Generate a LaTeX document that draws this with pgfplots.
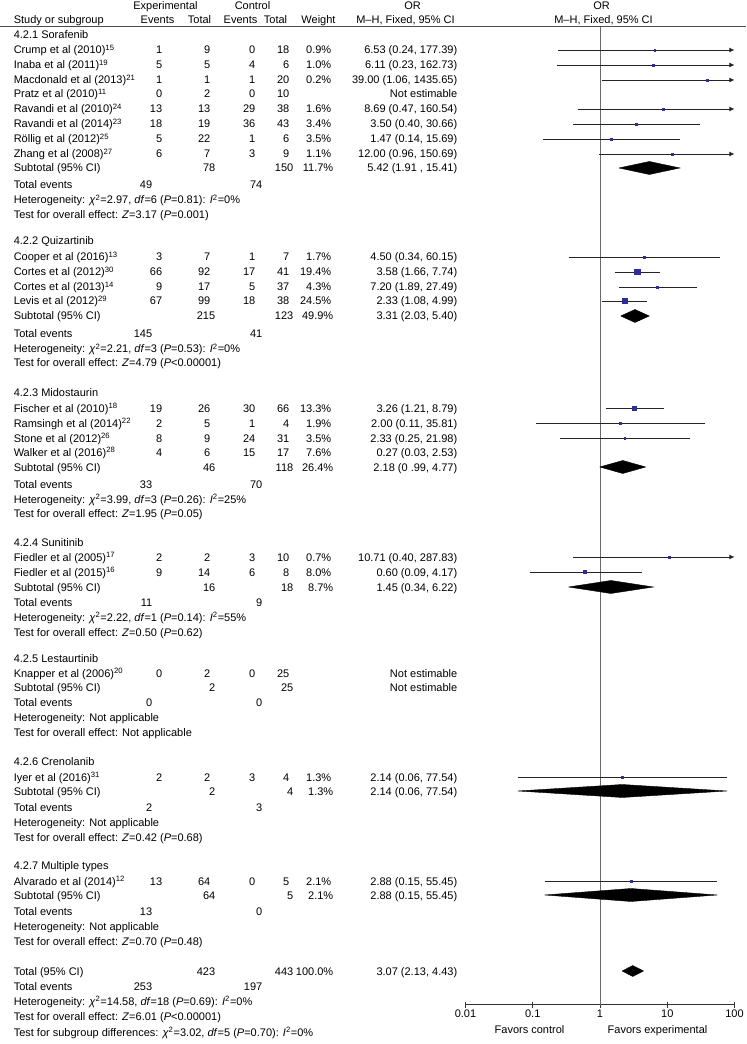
\documentclass[border=0pt]{standalone}
\usepackage{pgfplots}
\pgfplotsset{compat=1.18}
\usepackage{fontspec}
\setmainfont{Liberation Sans}
\usetikzlibrary{arrows.meta}
\definecolor{sq}{RGB}{45,45,155}
\definecolor{ln}{RGB}{35,35,35}
\definecolor{vl}{RGB}{105,105,105}
\newcommand\Lt[3]{\node[anchor=base west,yshift=-3pt,inner sep=0pt] at (axis cs:#1,#2) {#3};}
\newcommand\Rt[3]{\node[anchor=base east,yshift=-3pt,inner sep=0pt] at (axis cs:#1,#2) {#3};}
\newcommand\Ct[3]{\node[anchor=base,yshift=-3pt,inner sep=0pt] at (axis cs:#1,#2) {#3};}
\newcommand\Stu[8]{\Lt{13}{#1}{#2}\Rt{162}{#1}{#3}\Rt{210}{#1}{#4}\Rt{255}{#1}{#5}\Rt{289}{#1}{#6}\Rt{331}{#1}{#7}\Rt{457}{#1}{#8}}
\newcommand\Sub[5]{\Lt{13}{#1}{Subtotal (95\% CI)}\Rt{215}{#1}{#2}\Rt{293}{#1}{#3}\Rt{333}{#1}{#4}\Rt{457}{#1}{#5}}
\newcommand\TE[3]{\Lt{13}{#1}{Total events}\Rt{152}{#1}{#2}\Rt{262}{#1}{#3}}
\newcommand\Het[2]{\Lt{13}{#1}{Heterogeneity: #2}}
\newcommand\Tst[2]{\Lt{13}{#1}{Test for overall effect: #2}}
\newcommand\chisq{\textit{χ}\textsuperscript{2}}
\newcommand\Isq{\textit{I}\textsuperscript{2}}
\begin{document}
\begin{tikzpicture}[font=\fontsize{8.25}{10}\selectfont]
\begin{axis}[at={(0pt,0pt)}, anchor=south west, scale only axis,
  width=558.75pt, height=783pt, xmin=0, xmax=745, ymin=0, ymax=1044,
  y dir=reverse, hide axis, clip=false]
\path (axis cs:0,0) rectangle (axis cs:745,1044);
\draw[black!70, line width=0.75pt] (axis cs:0,27) -- (axis cs:745,27);
% headers
\Ct{165}{6}{Experimental}
\Ct{252}{6}{Control}
\Ct{412}{6}{OR}
\Ct{601}{6}{OR}
\Lt{13}{20}{Study or subgroup}
\Ct{157}{20}{Events}
\Ct{199}{20}{Total}
\Ct{240}{20}{Events}
\Ct{275}{20}{Total}
\Ct{318}{20}{Weight}
\Ct{405}{20}{M–H, Fixed, 95\% CI}
\Ct{603}{20}{M–H, Fixed, 95\% CI}
% 4.2.1
\Lt{13}{35}{4.2.1 Sorafenib}
\Stu{50}{Crump et al (2010)\textsuperscript{15}}{1}{9}{0}{18}{0.9\%}{6.53 (0.24, 177.39)}
\Stu{65}{Inaba et al (2011)\textsuperscript{19}}{5}{5}{4}{6}{1.0\%}{6.11 (0.23, 162.73)}
\Stu{80}{Macdonald et al (2013)\textsuperscript{21}}{1}{1}{1}{20}{0.2\%}{39.00 (1.06, 1435.65)}
\Stu{94}{Pratz et al (2010)\textsuperscript{11}}{0}{2}{0}{10}{}{Not estimable}
\Stu{109}{Ravandi et al (2010)\textsuperscript{24}}{13}{13}{29}{38}{1.6\%}{8.69 (0.47, 160.54)}
\Stu{124}{Ravandi et al (2014)\textsuperscript{23}}{18}{19}{36}{43}{3.4\%}{3.50 (0.40, 30.66)}
\Stu{139}{Röllig et al (2012)\textsuperscript{25}}{5}{22}{1}{6}{3.5\%}{1.47 (0.14, 15.69)}
\Stu{154}{Zhang et al (2008)\textsuperscript{27}}{6}{7}{3}{9}{1.1\%}{12.00 (0.96, 150.69)}
\Sub{168}{78}{150}{11.7\%}{5.42 (1.91 , 15.41)}
\TE{185}{49}{74}
\Het{200}{\chisq=2.97, \textit{df}=6 (\textit{P}=0.81): \Isq=0\%}
\Tst{215}{\textit{Z}=3.17 (\textit{P}=0.001)}
% 4.2.2
\Lt{13}{241}{4.2.2 Quizartinib}
\Stu{257}{Cooper et al (2016)\textsuperscript{13}}{3}{7}{1}{7}{1.7\%}{4.50 (0.34, 60.15)}
\Stu{272}{Cortes et al (2012)\textsuperscript{30}}{66}{92}{17}{41}{19.4\%}{3.58 (1.66, 7.74)}
\Stu{287}{Cortes et al (2013)\textsuperscript{14}}{9}{17}{5}{37}{4.3\%}{7.20 (1.89, 27.49)}
\Stu{301}{Levis et al (2012)\textsuperscript{29}}{67}{99}{18}{38}{24.5\%}{2.33 (1.08, 4.99)}
\Sub{316}{215}{123}{49.9\%}{3.31 (2.03, 5.40)}
\TE{334}{145}{41}
\Het{349}{\chisq=2.21, \textit{df}=3 (\textit{P}=0.53): \Isq=0\%}
\Tst{363}{\textit{Z}=4.79 (\textit{P}<0.00001)}
% 4.2.3
\Lt{13}{392}{4.2.3 Midostaurin}
\Stu{408}{Fischer et al (2010)\textsuperscript{18}}{19}{26}{30}{66}{13.3\%}{3.26 (1.21, 8.79)}
\Stu{423}{Ramsingh et al (2014)\textsuperscript{22}}{2}{5}{1}{4}{1.9\%}{2.00 (0.11, 35.81)}
\Stu{438}{Stone et al (2012)\textsuperscript{26}}{8}{9}{24}{31}{3.5\%}{2.33 (0.25, 21.98)}
\Stu{452}{Walker et al (2016)\textsuperscript{28}}{4}{6}{15}{17}{7.6\%}{0.27 (0.03, 2.53)}
\Sub{467}{46}{118}{26.4\%}{2.18 (0 .99, 4.77)}
\TE{484}{33}{70}
\Het{499}{\chisq=3.99, \textit{df}=3 (\textit{P}=0.26): \Isq=25\%}
\Tst{513}{\textit{Z}=1.95 (\textit{P}=0.05)}
% 4.2.4
\Lt{13}{542}{4.2.4 Sunitinib}
\Stu{557}{Fiedler et al (2005)\textsuperscript{17}}{2}{2}{3}{10}{0.7\%}{10.71 (0.40, 287.83)}
\Stu{572}{Fiedler et al (2015)\textsuperscript{16}}{9}{14}{6}{8}{8.0\%}{0.60 (0.09, 4.17)}
\Sub{587}{16}{18}{8.7\%}{1.45 (0.34, 6.22)}
\TE{602}{11}{9}
\Het{617}{\chisq=2.22, \textit{df}=1 (\textit{P}=0.14): \Isq=55\%}
\Tst{632}{\textit{Z}=0.50 (\textit{P}=0.62)}
% 4.2.5
\Lt{13}{658}{4.2.5 Lestaurtinib}
\Stu{673}{Knapper et al (2006)\textsuperscript{20}}{0}{2}{0}{25}{}{Not estimable}
\Sub{687}{2}{25}{}{Not estimable}
\TE{702}{0}{0}
\Het{717}{Not applicable}
\Tst{732}{Not applicable}
% 4.2.6
\Lt{13}{761}{4.2.6 Crenolanib}
\Stu{777}{Iyer et al (2016)\textsuperscript{31}}{2}{2}{3}{4}{1.3\%}{2.14 (0.06, 77.54)}
\Sub{791}{2}{4}{1.3\%}{2.14 (0.06, 77.54)}
\TE{807}{2}{3}
\Het{822}{Not applicable}
\Tst{837}{\textit{Z}=0.42 (\textit{P}=0.68)}
% 4.2.7
\Lt{13}{865}{4.2.7 Multiple types}
\Stu{881}{Alvarado et al (2014)\textsuperscript{12}}{13}{64}{0}{5}{2.1\%}{2.88 (0.15, 55.45)}
\Sub{895}{64}{5}{2.1\%}{2.88 (0.15, 55.45)}
\TE{911}{13}{0}
\Het{926}{Not applicable}
\Tst{941}{\textit{Z}=0.70 (\textit{P}=0.48)}
% total
\Lt{13}{971}{Total (95\% CI)}
\Rt{215}{971}{423}
\Rt{293}{971}{443}
\Rt{333}{971}{100.0\%}
\Rt{457}{971}{3.07 (2.13, 4.43)}
\TE{986}{253}{197}
\Het{1001}{\chisq=14.58, \textit{df}=18 (\textit{P}=0.69): \Isq=0\%}
\Tst{1016}{\textit{Z}=6.01 (\textit{P}<0.00001)}
\Lt{13}{1032}{Test for subgroup differences: \chisq=3.02, \textit{df}=5 (\textit{P}=0.70): \Isq=0\%}
\Ct{529}{1029}{Favors control}
\Ct{657}{1029}{Favors experimental}
\end{axis}
\begin{axis}[at={(348.75pt,29.25pt)}, anchor=south west, scale only axis,
  width=201.75pt, height=733.5pt, xmode=log, xmin=0.01, xmax=100,
  ymin=-1005, ymax=-27, clip=false,
  axis x line*=bottom, axis y line=none,
  x axis line style={-, black!80, line width=0.75pt},
  xtick={0.01,0.1,1,10,100}, xticklabels={0.01,0.1,1,10,100},
  xminorticks=false, tick align=center, major tick length=4.5pt,
  tick style={black!80, line width=0.75pt},
  /pgf/number format/assume math mode=true,
  xticklabel style={inner sep=1pt, yshift=0pt}]
\addplot[vl, line width=0.75pt] coordinates {(1,-27) (1,-1005)};
% CI lines with arrows
\addplot[ln, line width=0.6pt, -{Latex[length=3.8pt,width=3.6pt]}] coordinates {(0.24,-50) (100,-50)};
\addplot[ln, line width=0.6pt, -{Latex[length=3.8pt,width=3.6pt]}] coordinates {(0.23,-65) (100,-65)};
\addplot[ln, line width=0.6pt, -{Latex[length=3.8pt,width=3.6pt]}] coordinates {(1.06,-80) (100,-80)};
\addplot[ln, line width=0.6pt, -{Latex[length=3.8pt,width=3.6pt]}] coordinates {(0.47,-109) (100,-109)};
\addplot[ln, line width=0.6pt] coordinates {(0.40,-124) (30.66,-124)};
\addplot[ln, line width=0.6pt] coordinates {(0.14,-139) (15.69,-139)};
\addplot[ln, line width=0.6pt, -{Latex[length=3.8pt,width=3.6pt]}] coordinates {(0.96,-154) (100,-154)};
\addplot[ln, line width=0.6pt] coordinates {(0.34,-257) (60.15,-257)};
\addplot[ln, line width=0.6pt] coordinates {(1.66,-272) (7.74,-272)};
\addplot[ln, line width=0.6pt] coordinates {(1.89,-287) (27.49,-287)};
\addplot[ln, line width=0.6pt] coordinates {(1.08,-301) (4.99,-301)};
\addplot[ln, line width=0.6pt] coordinates {(1.21,-408) (8.79,-408)};
\addplot[ln, line width=0.6pt] coordinates {(0.11,-423) (35.81,-423)};
\addplot[ln, line width=0.6pt] coordinates {(0.25,-438) (21.98,-438)};
\addplot[ln, line width=0.6pt, -{Latex[length=3.8pt,width=3.6pt]}] coordinates {(0.40,-557) (100,-557)};
\addplot[ln, line width=0.6pt] coordinates {(0.09,-572) (4.17,-572)};
\addplot[ln, line width=0.6pt] coordinates {(0.06,-777) (77.54,-777)};
\addplot[ln, line width=0.6pt] coordinates {(0.15,-881) (55.45,-881)};
% squares
\addplot[only marks, mark=square*, mark size=0.7pt, sq, mark options={draw=sq, fill=sq}] coordinates {
 (6.53,-50) (6.11,-65) (39.00,-80) (8.69,-109) (3.50,-124) (1.47,-139) (12.00,-154)
 (4.50,-257) (7.20,-287) (2.00,-423) (2.33,-438) (10.71,-557) (2.14,-777) (2.88,-881)};
\addplot[only marks, mark=square*, mark size=1.05pt, sq, mark options={draw=sq, fill=sq}] coordinates {(0.60,-572)};
\addplot[only marks, mark=square*, mark size=1.5pt, sq, mark options={draw=sq, fill=sq}] coordinates {(3.26,-408)};
\addplot[only marks, mark=square*, mark size=1.9pt, sq, mark options={draw=sq, fill=sq}] coordinates {(3.58,-272) (2.33,-301)};
% diamonds
\addplot[fill=black, draw=black, line width=0.3pt] coordinates {(1.91,-168) (5.42,-161.5) (15.41,-168) (5.42,-174.5) (1.91,-168)};
\addplot[fill=black, draw=black, line width=0.3pt] coordinates {(2.03,-316) (3.31,-309.5) (5.40,-316) (3.31,-322.5) (2.03,-316)};
\addplot[fill=black, draw=black, line width=0.3pt] coordinates {(0.99,-467) (2.18,-460.5) (4.77,-467) (2.18,-473.5) (0.99,-467)};
\addplot[fill=black, draw=black, line width=0.3pt] coordinates {(0.34,-587) (1.45,-580.5) (6.22,-587) (1.45,-593.5) (0.34,-587)};
\addplot[fill=black, draw=black, line width=0.3pt] coordinates {(0.06,-791) (2.14,-784.5) (77.54,-791) (2.14,-797.5) (0.06,-791)};
\addplot[fill=black, draw=black, line width=0.3pt] coordinates {(0.15,-895) (2.88,-888.5) (55.45,-895) (2.88,-901.5) (0.15,-895)};
\addplot[fill=black, draw=black, line width=0.3pt] coordinates {(2.13,-971) (3.07,-965.5) (4.43,-971) (3.07,-976.5) (2.13,-971)};
\end{axis}
\end{tikzpicture}
\end{document}
